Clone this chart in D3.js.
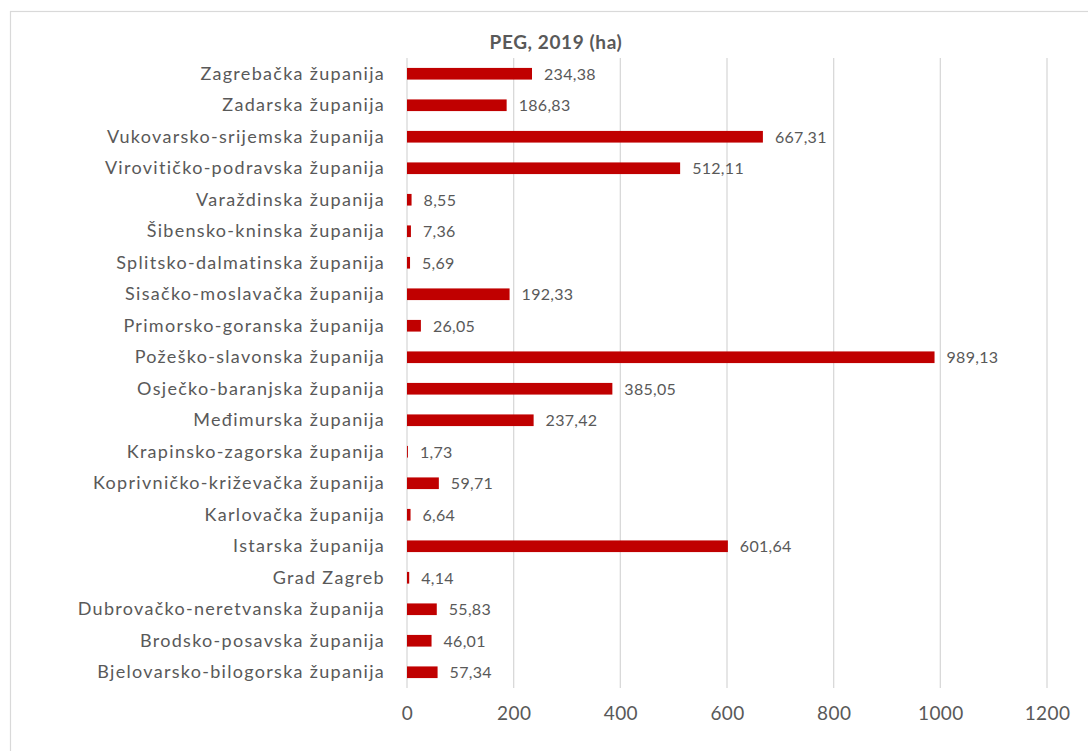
<!DOCTYPE html>
<html>
<head>
<meta charset="utf-8">
<script src="https://cdn.jsdelivr.net/npm/d3@7"></script>
<style>
  body { margin: 0; background: #fff; }
  svg text { font-family: Lato, "Open Sans", sans-serif; fill: #595959; }
</style>
</head>
<body>
<div id="chart"></div>
<script>
// Données
const zupanije = [
  "Zagrebačka županija", "Zadarska županija", "Vukovarsko-srijemska županija",
  "Virovitičko-podravska županija", "Varaždinska županija", "Šibensko-kninska županija",
  "Splitsko-dalmatinska županija", "Sisačko-moslavačka županija", "Primorsko-goranska županija",
  "Požeško-slavonska županija", "Osječko-baranjska županija", "Međimurska županija",
  "Krapinsko-zagorska županija", "Koprivničko-križevačka županija", "Karlovačka županija",
  "Istarska županija", "Grad Zagreb", "Dubrovačko-neretvanska županija",
  "Brodsko-posavska županija", "Bjelovarsko-bilogorska županija"
];
const povrsina = [234.38, 186.83, 667.31, 512.11, 8.55, 7.36, 5.69, 192.33, 26.05, 989.13,
  385.05, 237.42, 1.73, 59.71, 6.64, 601.64, 4.14, 55.83, 46.01, 57.34];
const xTicks = [0, 200, 400, 600, 800, 1000, 1200];
const naslov = "PEG, 2019 (ha)";

const W = 1088, H = 751;
const margin = { top: 58, left: 407, right: 41, bottom: 63 };

const svg = d3.select("#chart").append("svg")
  .attr("width", W).attr("height", H);

// Cadre
svg.append("rect")
  .attr("x", 10.5).attr("y", 11.5)
  .attr("width", W + 20).attr("height", H + 20)
  .attr("fill", "none").attr("stroke", "#d9d9d9").attr("stroke-width", 1.2);

const x = d3.scaleLinear().domain([0, 1200]).range([margin.left, W - margin.right]);
const y = d3.scaleBand().domain(zupanije).range([margin.top, H - margin.bottom]).paddingInner(0.63).paddingOuter(0.315);

// Grille
svg.append("g").selectAll("line").data(xTicks).join("line")
  .attr("x1", d => x(d)).attr("x2", d => x(d))
  .attr("y1", margin.top).attr("y2", H - margin.bottom)
  .attr("stroke", "#d9d9d9").attr("stroke-width", 1.3);

// Axe X
const xAxis = svg.append("g")
  .attr("transform", `translate(0,${H - margin.bottom})`)
  .call(d3.axisBottom(x).tickValues(xTicks).tickFormat(d3.format("d")).tickSize(0).tickPadding(19));
xAxis.select(".domain").remove();
xAxis.selectAll("text").style("font-size", "19px").style("letter-spacing", "0.4px").attr("fill", "#595959");

// Axe Y
const yAxis = svg.append("g")
  .attr("transform", `translate(${margin.left},0)`)
  .call(d3.axisLeft(y).tickSize(0).tickPadding(22));
yAxis.select(".domain").remove();
yAxis.selectAll("text").style("font-size", "18px").style("letter-spacing", "1.3px").attr("fill", "#595959");

// Barres
svg.append("g").selectAll("rect").data(povrsina).join("rect")
  .attr("x", x(0))
  .attr("y", (d, i) => y(zupanije[i]))
  .attr("width", d => x(d) - x(0))
  .attr("height", y.bandwidth())
  .attr("fill", "#c00000");

// Étiquettes
svg.append("g").selectAll("text").data(povrsina).join("text")
  .attr("x", d => x(d) + 12)
  .attr("y", (d, i) => y(zupanije[i]) + y.bandwidth() / 2)
  .attr("dy", "0.38em")
  .style("font-size", "16px")
  .style("letter-spacing", "0.3px")
  .text(d => d3.format(".2f")(d).replace(".", ","));

// Titre
svg.append("text")
  .attr("x", 556).attr("y", 49)
  .attr("text-anchor", "middle")
  .style("font-size", "19px").style("font-weight", "bold")
  .style("letter-spacing", "0.6px")
  .text(naslov);
</script>
</body>
</html>
